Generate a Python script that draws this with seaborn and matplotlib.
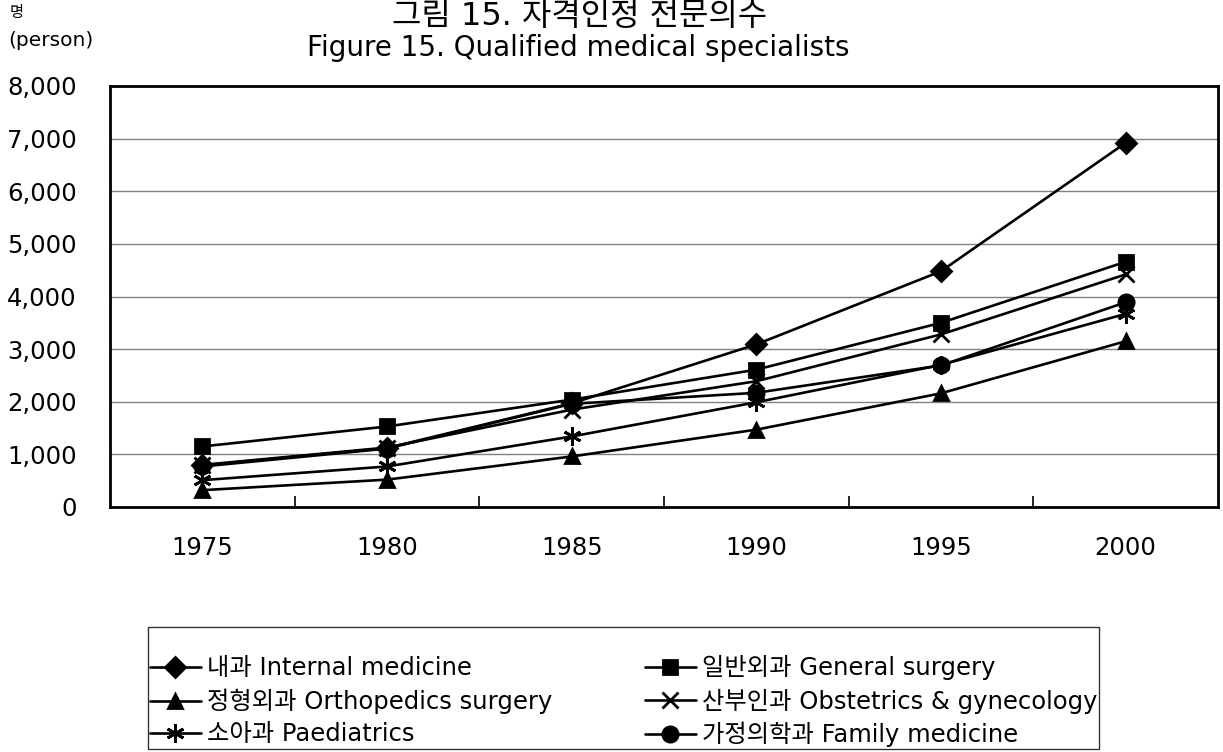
import matplotlib
matplotlib.use("Agg")
import matplotlib.pyplot as plt
import seaborn as sns
import pandas as pd
import numpy as np
from matplotlib.ticker import FuncFormatter, FixedLocator

years = ["1975", "1980", "1985", "1990", "1995", "2000"]
internal = [790, 1120, 1970, 3090, 4480, 6920]
general = [1150, 1530, 2040, 2610, 3500, 4660]
ortho = [320, 520, 960, 1470, 2160, 3150]
obgyn = [800, 1130, 1850, 2390, 3280, 4420]
paed = [510, 770, 1340, 1990, 2700, 3670]
family = [770, 1110, 1960, 2170, 2690, 3890]

series_names = ["내과 Internal medicine", "일반외과 General surgery",
                "정형외과 Orthopedics surgery", "산부인과 Obstetrics & gynecology",
                "소아과 Paediatrics", "가정의학과 Family medicine"]
series_values = [internal, general, ortho, obgyn, paed, family]
series_markers = ["D", "s", "^", "x", (6, 2, 0), "o"]
series_msize = [10, 10, 10, 12, 13, 11]
y_ticks = [0, 1000, 2000, 3000, 4000, 5000, 6000, 7000, 8000]

sns.set_theme(style="white")
plt.rcParams['font.family'] = ['DejaVu Sans', 'Noto Sans CJK KR']
plt.rcParams['text.color'] = 'black'

fig = plt.figure(figsize=(12.23, 7.52), dpi=100)
ax = fig.add_axes([110/1223, 1-507/752, 1108/1223, 421/752])

for name, vals, mk, ms in zip(series_names, series_values, series_markers, series_msize):
    d = pd.DataFrame({"year": years, "value": vals})
    sns.lineplot(data=d, x="year", y="value", marker=mk, color="black",
                 linewidth=1.9, markersize=ms, markeredgewidth=2.0,
                 markeredgecolor="black", markerfacecolor="black",
                 ax=ax, label=name, sort=False)

ax.set_xlim(-0.5, 5.5)
ax.set_ylim(0, 8000)
ax.yaxis.set_major_locator(FixedLocator(y_ticks))
ax.yaxis.set_major_formatter(FuncFormatter(lambda v, p: f"{int(v):,}"))
ax.grid(axis="y", color="#808080", linewidth=1.0)
ax.grid(axis="x", visible=False)
ax.set_xlabel("")
ax.set_ylabel("")
for s in ax.spines.values():
    s.set_color("black")
    s.set_linewidth(2.0)
ax.tick_params(axis="both", which="major", length=0, labelsize=17.5, colors="black")
ax.tick_params(axis="x", pad=21)
ax.tick_params(axis="y", pad=24)
ax.set_xticks(np.arange(0.5, 5.5, 1.0), minor=True)
ax.tick_params(axis="x", which="minor", direction="in", length=8, width=1.2, color="black", bottom=True)

handles, labels = ax.get_legend_handles_labels()
if ax.get_legend() is not None:
    ax.get_legend().remove()
order = [0, 2, 4, 1, 3, 5]
leg = fig.legend([handles[i] for i in order], [labels[i] for i in order],
                 ncol=2, loc="upper left",
                 bbox_to_anchor=(148/1223, 1-627/752),
                 fontsize=17.5, frameon=True, fancybox=False, edgecolor="black",
                 handlelength=2.1, handletextpad=0.25, columnspacing=3.8,
                 labelspacing=0.34, borderpad=0.08, borderaxespad=0,
                 title=" ", title_fontsize=12)
leg.get_frame().set_linewidth(1.0)
for t in leg.get_texts():
    t.set_color("black")

fig.text(580/1223, 1-17/752, "그림 15. 자격인정 전문의수", ha="center", va="center", fontsize=23, color="black")
fig.text(578/1223, 1-48/752, "Figure 15. Qualified medical specialists", ha="center", va="center", fontsize=20, color="black")
fig.text(10/1223, 1-12/752, "명", ha="left", va="center", fontsize=11, color="black")
fig.text(8/1223, 1-40/752, "(person)", ha="left", va="center", fontsize=14.5, color="black")

fig.savefig("out.png", dpi=100, facecolor="white")
